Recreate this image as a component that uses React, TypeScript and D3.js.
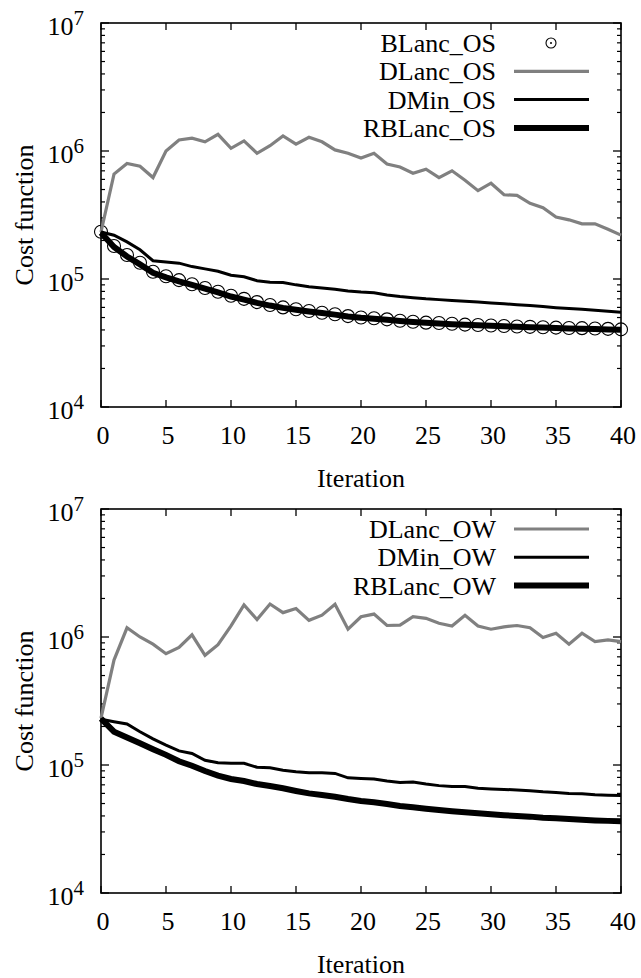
import * as d3 from "d3";
import { useEffect, useRef } from "react";

// iteration axis and decade ticks
const xTicks = [0, 5, 10, 15, 20, 25, 30, 35, 40];
const yExponents = [4, 5, 6, 7];

// top panel (OS)
const blancOS = [
  2.34e5, 1.81e5, 1.54e5, 1.34e5, 1.14e5, 1.05e5, 9.8e4, 9.1e4, 8.5e4, 7.95e4,
  7.4e4, 7.0e4, 6.6e4, 6.27e4, 6.0e4, 5.8e4, 5.62e4, 5.45e4, 5.3e4, 5.13e4,
  5.0e4, 4.93e4, 4.84e4, 4.72e4, 4.63e4, 4.56e4, 4.53e4, 4.47e4, 4.4e4, 4.37e4,
  4.33e4, 4.29e4, 4.25e4, 4.23e4, 4.2e4, 4.17e4, 4.14e4, 4.13e4, 4.1e4, 4.08e4,
  4.04e4,
];
const dlancOS = [
  2.33e5, 6.6e5, 8.0e5, 7.6e5, 6.2e5, 1.0e6, 1.22e6, 1.26e6, 1.18e6, 1.35e6,
  1.05e6, 1.2e6, 9.6e5, 1.1e6, 1.31e6, 1.13e6, 1.28e6, 1.18e6, 1.02e6, 9.6e5,
  8.8e5, 9.6e5, 7.9e5, 7.5e5, 6.7e5, 7.2e5, 6.2e5, 7.0e5, 5.9e5, 4.9e5,
  5.6e5, 4.55e5, 4.5e5, 3.9e5, 3.6e5, 3.05e5, 2.9e5, 2.7e5, 2.7e5, 2.45e5,
  2.2e5,
];
const dminOS = [
  2.33e5, 2.2e5, 1.95e5, 1.69e5, 1.39e5, 1.36e5, 1.33e5, 1.25e5, 1.2e5, 1.15e5,
  1.07e5, 1.04e5, 9.7e4, 9.45e4, 9.4e4, 9.0e4, 8.7e4, 8.5e4, 8.3e4, 8.05e4,
  7.9e4, 7.8e4, 7.5e4, 7.3e4, 7.15e4, 7.0e4, 6.9e4, 6.8e4, 6.7e4, 6.6e4,
  6.5e4, 6.4e4, 6.3e4, 6.2e4, 6.1e4, 5.97e4, 5.87e4, 5.8e4, 5.7e4, 5.6e4,
  5.5e4,
];
const rblancOS = [
  2.3e5, 1.78e5, 1.5e5, 1.3e5, 1.12e5, 1.03e5, 9.6e4, 9.0e4, 8.4e4, 7.85e4,
  7.3e4, 6.9e4, 6.5e4, 6.2e4, 5.95e4, 5.75e4, 5.58e4, 5.42e4, 5.27e4, 5.1e4,
  4.98e4, 4.9e4, 4.8e4, 4.7e4, 4.62e4, 4.55e4, 4.5e4, 4.44e4, 4.39e4, 4.35e4,
  4.31e4, 4.27e4, 4.23e4, 4.2e4, 4.17e4, 4.14e4, 4.11e4, 4.09e4, 4.06e4, 4.04e4,
  4.01e4,
];

// bottom panel (OW)
const dlancOW = [
  2.32e5, 6.6e5, 1.18e6, 1.0e6, 8.8e5, 7.4e5, 8.3e5, 1.04e6, 7.2e5, 8.7e5,
  1.22e6, 1.78e6, 1.37e6, 1.81e6, 1.55e6, 1.67e6, 1.35e6, 1.48e6, 1.8e6, 1.15e6,
  1.44e6, 1.51e6, 1.23e6, 1.24e6, 1.44e6, 1.4e6, 1.28e6, 1.22e6, 1.48e6, 1.22e6,
  1.15e6, 1.2e6, 1.23e6, 1.18e6, 9.9e5, 1.07e6, 8.8e5, 1.07e6, 9.2e5, 9.5e5,
  9.2e5,
];
const dminOW = [
  2.28e5, 2.18e5, 2.09e5, 1.82e5, 1.6e5, 1.43e5, 1.29e5, 1.23e5, 1.09e5, 1.04e5,
  1.03e5, 1.03e5, 9.6e4, 9.5e4, 9.1e4, 8.85e4, 8.7e4, 8.7e4, 8.6e4, 7.94e4,
  7.85e4, 7.77e4, 7.5e4, 7.3e4, 7.35e4, 7.1e4, 6.9e4, 6.8e4, 6.8e4, 6.57e4,
  6.5e4, 6.45e4, 6.38e4, 6.3e4, 6.17e4, 6.1e4, 6.0e4, 5.95e4, 5.85e4, 5.8e4,
  5.78e4,
];
const rblancOW = [
  2.3e5, 1.82e5, 1.64e5, 1.48e5, 1.33e5, 1.2e5, 1.07e5, 9.86e4, 8.97e4, 8.25e4,
  7.77e4, 7.5e4, 7.1e4, 6.85e4, 6.58e4, 6.27e4, 6.0e4, 5.83e4, 5.65e4, 5.42e4,
  5.24e4, 5.12e4, 4.96e4, 4.78e4, 4.68e4, 4.56e4, 4.45e4, 4.35e4, 4.27e4, 4.19e4,
  4.12e4, 4.05e4, 4.0e4, 3.95e4, 3.87e4, 3.83e4, 3.78e4, 3.73e4, 3.69e4, 3.66e4,
  3.63e4,
];

const FONT = "Liberation Serif, DejaVu Serif, serif";

const App = () => {
  const ref = useRef(null);

  useEffect(() => {
    const svg = d3.select(ref.current);
    svg.selectAll("*").remove();

    const left = 101,
      right = 621;

    const x = d3.scaleLinear().domain([0, 40]).range([left, right]);

    const panels = [
      {
        top: 23,
        bottom: 407,
        series: [
          { name: "BLanc_OS", values: blancOS, kind: "circle" },
          { name: "DLanc_OS", values: dlancOS, color: "#808080", width: 3.2 },
          { name: "DMin_OS", values: dminOS, color: "#000", width: 3 },
          { name: "RBLanc_OS", values: rblancOS, color: "#000", width: 6 },
        ],
      },
      {
        top: 509,
        bottom: 893,
        series: [
          { name: "DLanc_OW", values: dlancOW, color: "#808080", width: 3.2 },
          { name: "DMin_OW", values: dminOW, color: "#000", width: 3 },
          { name: "RBLanc_OW", values: rblancOW, color: "#000", width: 6 },
        ],
      },
    ];

    const txt = (sel) =>
      sel.style("font-family", FONT).style("font-size", "26px").attr("fill", "#000");

    panels.forEach((p) => {
      const y = d3.scaleLog().domain([1e4, 1e7]).range([p.bottom, p.top]);
      const g = svg.append("g");

      // minor + major ticks on y (both sides, inward)
      const minor = [];
      for (let e = 4; e < 7; e++)
        for (let m = 2; m <= 9; m++) minor.push(m * Math.pow(10, e));
      minor.forEach((v) => {
        g.append("line")
          .attr("x1", left).attr("x2", left + 4)
          .attr("y1", y(v)).attr("y2", y(v))
          .attr("stroke", "#000").attr("stroke-width", 1.2);
        g.append("line")
          .attr("x1", right).attr("x2", right - 4)
          .attr("y1", y(v)).attr("y2", y(v))
          .attr("stroke", "#000").attr("stroke-width", 1.2);
      });
      yExponents.forEach((e) => {
        const yy = y(Math.pow(10, e));
        g.append("line")
          .attr("x1", left).attr("x2", left + 8)
          .attr("y1", yy).attr("y2", yy)
          .attr("stroke", "#000").attr("stroke-width", 1.3);
        g.append("line")
          .attr("x1", right).attr("x2", right - 8)
          .attr("y1", yy).attr("y2", yy)
          .attr("stroke", "#000").attr("stroke-width", 1.3);
        const t = g.append("text")
          .attr("x", 84)
          .attr("y", yy + 12)
          .attr("text-anchor", "end")
          .call(txt);
        t.append("tspan").text("10");
        t.append("tspan").attr("dy", -10).style("font-size", "21px").text(e);
      });

      // x ticks top + bottom
      xTicks.forEach((v) => {
        g.append("line")
          .attr("x1", x(v)).attr("x2", x(v))
          .attr("y1", p.bottom).attr("y2", p.bottom - 7)
          .attr("stroke", "#000").attr("stroke-width", 1.3);
        g.append("line")
          .attr("x1", x(v)).attr("x2", x(v))
          .attr("y1", p.top).attr("y2", p.top + 7)
          .attr("stroke", "#000").attr("stroke-width", 1.3);
        g.append("text")
          .attr("x", x(v) + 2)
          .attr("y", p.bottom + 37)
          .attr("text-anchor", "middle")
          .call(txt)
          .text(v);
      });

      // frame
      g.append("rect")
        .attr("x", left).attr("y", p.top)
        .attr("width", right - left).attr("height", p.bottom - p.top)
        .attr("fill", "none").attr("stroke", "#000").attr("stroke-width", 1.6);

      // axis titles
      g.append("text")
        .attr("x", (left + right) / 2)
        .attr("y", p.bottom + 80)
        .attr("text-anchor", "middle")
        .call(txt)
        .text("Iteration");
      g.append("text")
        .attr("transform", `translate(33,${(p.top + p.bottom) / 2}) rotate(-90)`)
        .attr("text-anchor", "middle")
        .call(txt)
        .text("Cost function");

      // data
      const line = d3.line().x((d, i) => x(i)).y((d) => y(d));
      p.series.forEach((s) => {
        if (s.kind === "circle") {
          g.append("g")
            .selectAll("circle")
            .data(s.values)
            .join("circle")
            .attr("cx", (d, i) => x(i))
            .attr("cy", (d) => y(d))
            .attr("r", 6.5)
            .attr("fill", "none")
            .attr("stroke", "#000")
            .attr("stroke-width", 1.1);
        }
      });
      p.series.forEach((s) => {
        if (s.kind === "circle") return;
        g.append("path")
          .datum(s.values)
          .attr("d", line)
          .attr("fill", "none")
          .attr("stroke", s.color)
          .attr("stroke-width", s.width)
          .attr("stroke-linejoin", "miter");
      });

      // legend
      p.series.forEach((s, i) => {
        const ly = p.top + 20 + i * 28.3;
        g.append("text")
          .attr("x", 496)
          .attr("y", ly + 9)
          .attr("text-anchor", "end")
          .call(txt)
          .text(s.name);
        if (s.kind === "circle") {
          g.append("circle")
            .attr("cx", 551).attr("cy", ly).attr("r", 5)
            .attr("fill", "none").attr("stroke", "#000").attr("stroke-width", 1.1);
          g.append("circle")
            .attr("cx", 551).attr("cy", ly).attr("r", 1)
            .attr("fill", "#000");
        } else {
          g.append("line")
            .attr("x1", 514).attr("x2", 589)
            .attr("y1", ly).attr("y2", ly)
            .attr("stroke", s.color)
            .attr("stroke-width", s.width);
        }
      });
    });
  }, []);

  return (
    <svg
      ref={ref}
      width={641}
      height={978}
      style={{ position: "absolute", left: 0, top: 0, background: "#fff" }}
    />
  );
};

export default App;
